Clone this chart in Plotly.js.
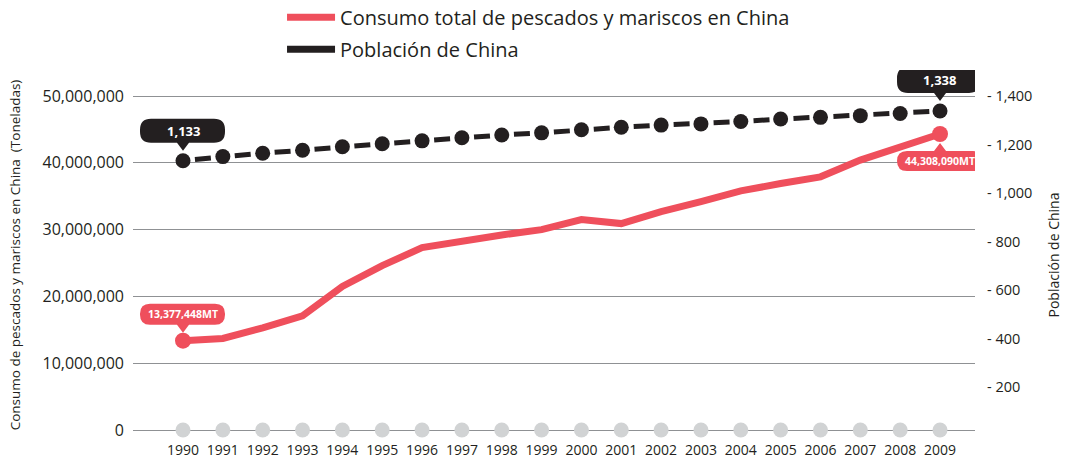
<!DOCTYPE html>
<html><head><meta charset="utf-8">
<script src="https://cdn.plot.ly/plotly-3.0.1.min.js"></script>
<style>html,body{margin:0;padding:0;background:#fff}#chart{width:1065px;height:460px}</style>
</head><body><div id="chart"></div>
<script>
// ---- data ----
const years = [1990,1991,1992,1993,1994,1995,1996,1997,1998,1999,2000,2001,2002,2003,2004,2005,2006,2007,2008,2009];
const fishConsumption = [13377448,13700000,15300000,17100000,21500000,24600000,27300000,28300000,29200000,30000000,31500000,30900000,32700000,34200000,35800000,36900000,37900000,40400000,42400000,44308090];
const population = [1133,1150,1164,1176,1191,1203,1215,1228,1239,1248,1261,1271,1280,1285,1295,1305,1312,1319,1328,1338];
const baseline = [0,0,0,0,0,0,0,0,0,0,0,0,0,0,0,0,0,0,0,0];
const leftTickVals = [0,10000000,20000000,30000000,40000000,50000000];
const rightTickVals = [200,400,600,800,1000,1200,1400];
const seriesNames = ['Consumo total de pescados y mariscos en China','Población de China'];
const leftAxisTitle = 'Consumo de pescados y mariscos en China  (Toneladas)';
const rightAxisTitle = 'Población de China';

// ---- styles ----
const RED = '#ef4f5c', BLACK = '#231f20', DOT = '#d1d3d4', GRID = '#8f9194', TXT = '#231f20';
const FONT = 'Open Sans, Noto Sans, sans-serif';

const last = years.length - 1;
const fmt = v => v.toLocaleString('en-US');

function callout(xv, yv, yref, color, x0, x1, y0, y1, r, tipY, pointerUp) {
  // pixel offsets relative to the data point (y positive = up)
  const pw = 6;
  let p;
  if (!pointerUp) {
    p = `M${x0 + r},${y1} L${x1 - r},${y1} Q${x1},${y1} ${x1},${y1 - r} L${x1},${y0 + r} Q${x1},${y0} ${x1 - r},${y0} ` +
        `L${pw},${y0} L0,${tipY} L${-pw},${y0} ` +
        `L${x0 + r},${y0} Q${x0},${y0} ${x0},${y0 + r} L${x0},${y1 - r} Q${x0},${y1} ${x0 + r},${y1} Z`;
  } else {
    p = `M${x0 + r},${y1} L${-pw},${y1} L0,${tipY} L${pw},${y1} L${x1 - r},${y1} Q${x1},${y1} ${x1},${y1 - r} L${x1},${y0 + r} Q${x1},${y0} ${x1 - r},${y0} ` +
        `L${x0 + r},${y0} Q${x0},${y0} ${x0},${y0 + r} L${x0},${y1 - r} Q${x0},${y1} ${x0 + r},${y1} Z`;
  }
  return {
    type: 'path', xref: 'x', yref: yref, xsizemode: 'pixel', ysizemode: 'pixel',
    xanchor: xv, yanchor: yv, path: p, fillcolor: color, line: {width: 0}, layer: 'above'
  };
}

const traces = [
  {x: years, y: baseline, yaxis: 'y', mode: 'markers', marker: {color: DOT, size: 15}, showlegend: false, hoverinfo: 'skip'},
  {x: years, y: fishConsumption, yaxis: 'y', mode: 'lines', line: {color: RED, width: 7}, showlegend: false},
  {x: [years[0], years[last]], y: [fishConsumption[0], fishConsumption[last]], yaxis: 'y', mode: 'markers', marker: {color: RED, size: 16}, showlegend: false},
  {x: years, y: population, yaxis: 'y2', mode: 'lines+markers', line: {color: BLACK, width: 5, dash: '0px,12px,16px,12px'}, marker: {color: BLACK, size: 15}, showlegend: false},
  {x: [null], y: [null], mode: 'lines', line: {color: RED, width: 7}, name: seriesNames[0], legendgroup: 'a'},
  {x: [null], y: [null], mode: 'lines', line: {color: BLACK, width: 7}, name: seriesNames[1], legendgroup: 'b'}
];

const layout = {
  width: 1065, height: 460,
  margin: {l: 133, r: 90, t: 70, b: 20, autoexpand: false},
  paper_bgcolor: '#fff', plot_bgcolor: '#fff',
  font: {family: FONT, color: TXT},
  showlegend: true,
  legend: {x: 0.177, xanchor: 'left', y: 1.195, yanchor: 'top', font: {size: 20, color: TXT}, tracegroupgap: 3, itemwidth: 48, bgcolor: 'rgba(0,0,0,0)'},
  xaxis: {range: [1988.745, 2009.878], tickvals: years, ticktext: years.map(String), showgrid: false, zeroline: false, showline: false, ticks: '', tickfont: {size: 14, color: TXT}},
  yaxis: {range: [-1497000, 53892000], tickvals: leftTickVals, tickformat: ',d', showgrid: true, gridcolor: GRID, gridwidth: 1, zeroline: false, showline: false, ticks: '', ticklabelstandoff: 8, tickfont: {size: 16, color: TXT},
          title: {text: leftAxisTitle, font: {size: 13.5, color: TXT}, standoff: 18}, automargin: false},
  yaxis2: {overlaying: 'y', side: 'right', range: [-18.6, 1507.2], tickvals: rightTickVals, ticktext: rightTickVals.map(v => '- ' + fmt(v)), showgrid: false, zeroline: false, showline: false, ticks: '', ticklabelstandoff: 11, tickfont: {size: 14.5, color: TXT},
          title: {text: rightAxisTitle, font: {size: 14, color: TXT}, standoff: 17}, automargin: false},
  shapes: [
    callout(years[0], population[0], 'y2', BLACK, -43, 42, 18, 42, 11, 10, false),
    callout(years[last], population[last], 'y2', BLACK, -43, 40, 18, 44, 11, 10, false),
    callout(years[0], fishConsumption[0], 'y', RED, -43, 42, 16, 37, 10, 8, false),
    callout(years[last], fishConsumption[last], 'y', RED, -43, 43, -37, -17, 10, -9, true)
  ],
  annotations: [
    {x: years[0], y: population[0], xref: 'x', yref: 'y2', text: '<b>' + fmt(population[0]) + '</b>', showarrow: false, yshift: 30, font: {size: 13, color: '#fff'}},
    {x: years[last], y: population[last], xref: 'x', yref: 'y2', text: '<b>' + fmt(population[last]) + '</b>', showarrow: false, yshift: 31, xshift: -1, font: {size: 13, color: '#fff'}},
    {x: years[0], y: fishConsumption[0], xref: 'x', yref: 'y', text: '<b>' + fmt(fishConsumption[0]) + 'MT</b>', showarrow: false, yshift: 26.5, font: {size: 10.5, color: '#fff'}},
    {x: years[last], y: fishConsumption[last], xref: 'x', yref: 'y', text: '<b>' + fmt(fishConsumption[last]) + 'MT</b>', showarrow: false, yshift: -27, font: {size: 10.5, color: '#fff'}}
  ]
};

Plotly.newPlot('chart', traces, layout, {displayModeBar: false, staticPlot: true});
</script>
</body></html>
